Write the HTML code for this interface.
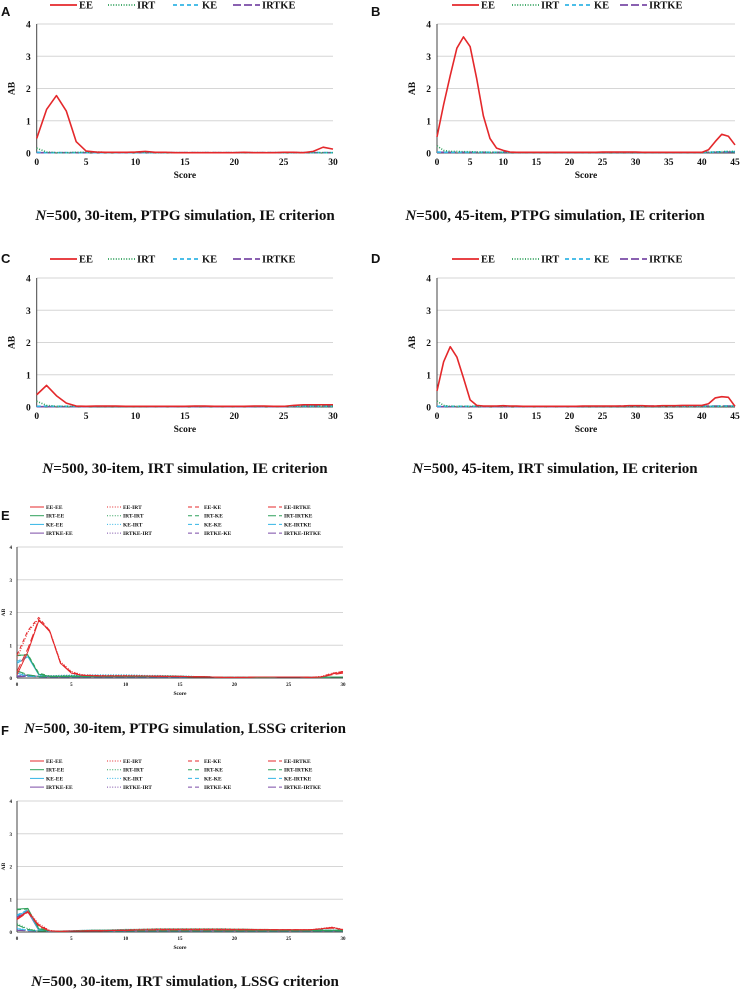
<!DOCTYPE html>
<html><head><meta charset="utf-8"><style>
html,body{margin:0;padding:0;background:#fff;}
svg{display:block;}
.t{font-family:"Liberation Serif",serif;font-weight:bold;}
.p{font-family:"Liberation Sans",sans-serif;font-weight:bold;}
</style></head><body>
<svg id="fig" width="741" height="991" viewBox="0 0 741 991" xmlns="http://www.w3.org/2000/svg"></svg>
<script>
// ---- data ----
const scores30 = [0,1,2,3,4,5,6,7,8,9,10,11,12,13,14,15,16,17,18,19,20,21,22,23,24,25,26,27,28,29,30];
const scores45 = [0,1,2,3,4,5,6,7,8,9,10,11,12,13,14,15,16,17,18,19,20,21,22,23,24,25,26,27,28,29,30,31,32,33,34,35,36,37,38,39,40,41,42,43,44,45];
const yTicks = [0,1,2,3,4];
const xTicks30 = [0,5,10,15,20,25,30];
const xTicks45 = [0,5,10,15,20,25,30,35,40,45];
const seriesNames = ["EE","IRT","KE","IRTKE"];

const A_EE = [0.45,1.35,1.78,1.3,0.35,0.06,0.03,0.02,0.02,0.02,0.03,0.05,0.02,0.02,0.01,0.01,0.01,0.01,0.01,0.01,0.01,0.02,0.01,0.01,0.01,0.02,0.02,0.01,0.05,0.18,0.12];
const A_IRT = [0.15,0.03,0.01,0.01,0.02,0.02,0.03,0.02,0.02,0.02,0.02,0.02,0.01,0.01,0.01,0.01,0.01,0.01,0.01,0.01,0.01,0.01,0.01,0.01,0.01,0.01,0.01,0.01,0.01,0.01,0.01];
const A_KE = [0.02,0.01,0.01,0.01,0.01,0.01,0.01,0.01,0.01,0.01,0.01,0.01,0.01,0.01,0.01,0.01,0.01,0.01,0.01,0.01,0.01,0.01,0.01,0.01,0.01,0.01,0.01,0.01,0.01,0.01,0.01];
const A_IRTKE = [0.01,0.01,0.01,0.01,0.01,0.01,0.02,0.02,0.01,0.01,0.01,0.01,0.01,0.01,0.01,0.01,0.01,0.01,0.01,0.01,0.01,0.01,0.01,0.01,0.01,0.01,0.01,0.01,0.01,0.01,0.01];

const B_EE = [0.5,1.5,2.4,3.25,3.6,3.3,2.3,1.15,0.45,0.15,0.08,0.03,0.02,0.02,0.02,0.02,0.02,0.02,0.02,0.02,0.02,0.02,0.02,0.02,0.02,0.03,0.03,0.03,0.03,0.03,0.03,0.02,0.02,0.02,0.02,0.02,0.02,0.02,0.02,0.02,0.02,0.1,0.35,0.58,0.52,0.25];
const B_IRT = [0.22,0.08,0.05,0.05,0.04,0.04,0.03,0.03,0.02,0.02,0.02,0.02,0.02,0.02,0.02,0.02,0.02,0.02,0.02,0.02,0.02,0.02,0.02,0.02,0.02,0.02,0.02,0.02,0.02,0.02,0.02,0.02,0.02,0.02,0.02,0.02,0.02,0.02,0.02,0.02,0.02,0.02,0.03,0.04,0.05,0.05];
const B_KE = [0.03,0.02,0.02,0.02,0.02,0.02,0.02,0.02,0.02,0.02,0.02,0.02,0.02,0.02,0.02,0.02,0.02,0.02,0.02,0.02,0.02,0.02,0.02,0.02,0.02,0.02,0.02,0.02,0.02,0.02,0.02,0.02,0.02,0.02,0.02,0.02,0.02,0.02,0.02,0.02,0.02,0.02,0.03,0.04,0.04,0.04];
const B_IRTKE = [0.02,0.02,0.02,0.02,0.02,0.02,0.02,0.02,0.02,0.02,0.02,0.02,0.02,0.02,0.02,0.02,0.02,0.02,0.02,0.02,0.02,0.02,0.02,0.02,0.02,0.02,0.02,0.02,0.02,0.02,0.02,0.02,0.02,0.02,0.02,0.02,0.02,0.02,0.02,0.02,0.02,0.02,0.02,0.03,0.03,0.03];

const C_EE = [0.38,0.67,0.35,0.12,0.03,0.02,0.03,0.03,0.03,0.02,0.02,0.02,0.02,0.02,0.02,0.02,0.03,0.03,0.02,0.02,0.02,0.02,0.03,0.03,0.02,0.02,0.05,0.07,0.07,0.07,0.07];
const C_IRT = [0.18,0.05,0.02,0.02,0.02,0.02,0.02,0.02,0.02,0.02,0.02,0.02,0.02,0.02,0.02,0.02,0.02,0.02,0.02,0.02,0.02,0.02,0.02,0.02,0.02,0.02,0.02,0.02,0.02,0.02,0.02];
const C_KE = [0.02,0.03,0.02,0.02,0.02,0.02,0.02,0.02,0.02,0.02,0.02,0.02,0.02,0.02,0.02,0.02,0.02,0.02,0.02,0.02,0.02,0.02,0.02,0.02,0.02,0.02,0.02,0.02,0.02,0.02,0.02];
const C_IRTKE = [0.01,0.01,0.01,0.01,0.01,0.01,0.02,0.02,0.02,0.02,0.02,0.02,0.01,0.01,0.01,0.01,0.01,0.01,0.01,0.01,0.01,0.01,0.01,0.01,0.01,0.01,0.02,0.02,0.02,0.03,0.03];

const D_EE = [0.5,1.4,1.87,1.55,0.9,0.22,0.05,0.03,0.03,0.03,0.04,0.03,0.03,0.02,0.02,0.02,0.02,0.02,0.02,0.02,0.02,0.02,0.03,0.03,0.03,0.03,0.03,0.03,0.03,0.04,0.04,0.04,0.03,0.03,0.04,0.04,0.04,0.05,0.05,0.05,0.05,0.1,0.28,0.32,0.3,0.02];
const D_IRT = [0.18,0.05,0.02,0.02,0.02,0.02,0.02,0.02,0.02,0.02,0.02,0.02,0.02,0.02,0.02,0.02,0.02,0.02,0.02,0.02,0.02,0.02,0.02,0.02,0.02,0.02,0.02,0.02,0.02,0.02,0.02,0.02,0.02,0.02,0.02,0.02,0.02,0.02,0.02,0.02,0.02,0.02,0.02,0.02,0.02,0.02];
const D_KE = [0.02,0.02,0.02,0.02,0.02,0.02,0.02,0.02,0.02,0.02,0.02,0.02,0.02,0.02,0.02,0.02,0.02,0.02,0.02,0.02,0.02,0.02,0.02,0.02,0.02,0.02,0.02,0.02,0.02,0.02,0.02,0.02,0.02,0.02,0.02,0.02,0.02,0.02,0.02,0.02,0.02,0.02,0.02,0.03,0.03,0.03];
const D_IRTKE = [0.01,0.01,0.01,0.01,0.01,0.01,0.01,0.01,0.01,0.01,0.01,0.01,0.01,0.01,0.01,0.01,0.01,0.01,0.01,0.01,0.01,0.01,0.02,0.02,0.02,0.02,0.02,0.02,0.03,0.03,0.03,0.03,0.03,0.03,0.03,0.03,0.03,0.03,0.03,0.03,0.03,0.03,0.03,0.03,0.03,0.03];

const lsNames = ["EE-EE","EE-IRT","EE-KE","EE-IRTKE","IRT-EE","IRT-IRT","IRT-KE","IRT-IRTKE","KE-EE","KE-IRT","KE-KE","KE-IRTKE","IRTKE-EE","IRTKE-IRT","IRTKE-KE","IRTKE-IRTKE"];

// E: PTPG, LSSG
const E_EE_EE = [0.1,0.8,1.75,1.45,0.45,0.15,0.08,0.07,0.06,0.06,0.06,0.06,0.06,0.05,0.05,0.05,0.04,0.04,0.03,0.02,0.02,0.02,0.03,0.03,0.03,0.03,0.03,0.02,0.03,0.12,0.18];
const E_EE_IRT = [0.6,1.4,1.8,1.45,0.5,0.2,0.1,0.08,0.07,0.07,0.07,0.07,0.06,0.06,0.05,0.05,0.04,0.04,0.03,0.02,0.02,0.02,0.03,0.03,0.03,0.03,0.03,0.02,0.05,0.15,0.2];
const E_EE_KE = [0.7,1.45,1.85,1.45,0.48,0.18,0.09,0.08,0.07,0.07,0.07,0.06,0.06,0.06,0.05,0.05,0.04,0.04,0.03,0.02,0.02,0.02,0.03,0.03,0.03,0.03,0.03,0.02,0.04,0.14,0.2];
const E_EE_IRTKE = [0.2,0.9,1.78,1.42,0.45,0.16,0.08,0.07,0.06,0.06,0.06,0.06,0.06,0.05,0.05,0.05,0.04,0.04,0.03,0.02,0.02,0.02,0.03,0.03,0.03,0.03,0.03,0.02,0.03,0.1,0.15];
const E_IRT_EE = [0.7,0.7,0.12,0.05,0.05,0.05,0.05,0.05,0.05,0.05,0.05,0.05,0.05,0.05,0.05,0.05,0.04,0.04,0.03,0.02,0.02,0.02,0.02,0.02,0.03,0.03,0.03,0.02,0.02,0.03,0.03];
const E_IRT_IRT = [0.2,0.08,0.05,0.06,0.07,0.08,0.08,0.08,0.08,0.08,0.08,0.08,0.07,0.07,0.07,0.06,0.05,0.04,0.03,0.02,0.02,0.02,0.02,0.02,0.03,0.03,0.03,0.02,0.02,0.03,0.03];
const E_IRT_KE = [0.68,0.72,0.15,0.06,0.05,0.05,0.05,0.05,0.05,0.05,0.05,0.05,0.05,0.05,0.05,0.05,0.04,0.04,0.03,0.02,0.02,0.02,0.02,0.02,0.03,0.03,0.03,0.02,0.02,0.03,0.03];
const E_IRT_IRTKE = [0.22,0.1,0.05,0.05,0.05,0.05,0.05,0.05,0.05,0.05,0.05,0.05,0.05,0.05,0.05,0.05,0.04,0.04,0.03,0.02,0.02,0.02,0.02,0.02,0.03,0.03,0.03,0.02,0.02,0.03,0.03];
const E_KE_EE = [0.45,0.65,0.1,0.05,0.05,0.06,0.06,0.06,0.06,0.06,0.06,0.06,0.06,0.06,0.05,0.05,0.04,0.04,0.03,0.02,0.02,0.02,0.02,0.02,0.03,0.03,0.03,0.02,0.02,0.03,0.03];
const E_KE_IRT = [0.1,0.05,0.05,0.07,0.08,0.09,0.1,0.1,0.1,0.1,0.1,0.09,0.08,0.08,0.07,0.06,0.05,0.04,0.03,0.02,0.02,0.02,0.02,0.02,0.03,0.03,0.03,0.02,0.02,0.03,0.03];
const E_KE_KE = [0.5,0.68,0.12,0.05,0.05,0.05,0.05,0.05,0.05,0.05,0.05,0.05,0.05,0.05,0.05,0.05,0.04,0.04,0.03,0.02,0.02,0.02,0.02,0.02,0.03,0.03,0.03,0.02,0.02,0.03,0.03];
const E_KE_IRTKE = [0.15,0.06,0.04,0.04,0.04,0.04,0.04,0.04,0.04,0.04,0.04,0.04,0.04,0.04,0.04,0.04,0.03,0.03,0.03,0.02,0.02,0.02,0.02,0.02,0.03,0.03,0.03,0.02,0.02,0.03,0.03];
const E_IRTKE_EE = [0.05,0.08,0.05,0.04,0.04,0.04,0.04,0.04,0.04,0.04,0.04,0.04,0.04,0.04,0.04,0.04,0.03,0.03,0.03,0.02,0.02,0.02,0.02,0.02,0.03,0.03,0.03,0.02,0.02,0.03,0.03];
const E_IRTKE_IRT = [0.05,0.05,0.06,0.07,0.08,0.08,0.08,0.08,0.08,0.08,0.08,0.08,0.07,0.07,0.06,0.06,0.05,0.04,0.03,0.02,0.02,0.02,0.02,0.02,0.03,0.03,0.03,0.02,0.02,0.03,0.03];
const E_IRTKE_KE = [0.06,0.09,0.05,0.04,0.04,0.04,0.04,0.04,0.04,0.04,0.04,0.04,0.04,0.04,0.04,0.04,0.03,0.03,0.03,0.02,0.02,0.02,0.02,0.02,0.03,0.03,0.03,0.02,0.02,0.03,0.03];
const E_IRTKE_IRTKE = [0.04,0.05,0.04,0.03,0.03,0.03,0.03,0.03,0.03,0.03,0.03,0.03,0.03,0.03,0.03,0.03,0.03,0.03,0.03,0.02,0.02,0.02,0.02,0.02,0.03,0.03,0.03,0.02,0.02,0.03,0.03];

// F: IRT, LSSG
const F_EE_EE = [0.4,0.63,0.2,0.03,0.02,0.03,0.03,0.04,0.04,0.05,0.05,0.06,0.06,0.07,0.07,0.07,0.07,0.07,0.07,0.07,0.07,0.07,0.07,0.07,0.07,0.07,0.07,0.07,0.1,0.14,0.07];
const F_EE_IRT = [0.42,0.65,0.25,0.05,0.02,0.03,0.04,0.05,0.05,0.06,0.07,0.08,0.09,0.1,0.1,0.1,0.1,0.1,0.1,0.1,0.09,0.09,0.08,0.08,0.07,0.07,0.07,0.07,0.11,0.15,0.08];
const F_EE_KE = [0.4,0.62,0.22,0.04,0.02,0.03,0.03,0.04,0.04,0.05,0.05,0.06,0.06,0.07,0.07,0.07,0.07,0.07,0.07,0.07,0.07,0.07,0.07,0.07,0.07,0.07,0.07,0.07,0.1,0.13,0.07];
const F_EE_IRTKE = [0.38,0.6,0.18,0.03,0.02,0.03,0.03,0.04,0.04,0.05,0.05,0.06,0.06,0.07,0.07,0.07,0.07,0.07,0.07,0.07,0.07,0.07,0.07,0.07,0.07,0.07,0.07,0.07,0.09,0.12,0.07];
const F_IRT_EE = [0.7,0.72,0.1,0.03,0.02,0.03,0.04,0.05,0.05,0.05,0.05,0.06,0.06,0.06,0.06,0.06,0.06,0.06,0.06,0.05,0.05,0.05,0.05,0.05,0.05,0.05,0.05,0.05,0.05,0.05,0.05];
const F_IRT_IRT = [0.25,0.1,0.03,0.03,0.03,0.04,0.05,0.06,0.06,0.07,0.08,0.08,0.09,0.1,0.1,0.1,0.1,0.1,0.1,0.1,0.09,0.09,0.08,0.08,0.07,0.07,0.06,0.06,0.06,0.06,0.06];
const F_IRT_KE = [0.68,0.7,0.12,0.03,0.02,0.03,0.04,0.05,0.05,0.05,0.05,0.06,0.06,0.06,0.06,0.06,0.06,0.06,0.06,0.05,0.05,0.05,0.05,0.05,0.05,0.05,0.05,0.05,0.05,0.05,0.05];
const F_IRT_IRTKE = [0.22,0.08,0.03,0.03,0.03,0.03,0.04,0.04,0.04,0.04,0.04,0.04,0.04,0.04,0.04,0.04,0.04,0.04,0.04,0.04,0.04,0.04,0.04,0.04,0.04,0.04,0.04,0.04,0.04,0.04,0.04];
const F_KE_EE = [0.5,0.65,0.06,0.02,0.02,0.03,0.03,0.04,0.04,0.05,0.05,0.05,0.05,0.05,0.05,0.05,0.05,0.05,0.05,0.05,0.05,0.05,0.05,0.05,0.05,0.05,0.05,0.05,0.05,0.05,0.05];
const F_KE_IRT = [0.12,0.06,0.03,0.03,0.03,0.04,0.05,0.06,0.06,0.07,0.08,0.08,0.09,0.09,0.09,0.09,0.09,0.09,0.09,0.09,0.08,0.08,0.07,0.07,0.07,0.07,0.06,0.06,0.06,0.05,0.05];
const F_KE_KE = [0.52,0.68,0.08,0.02,0.02,0.03,0.03,0.04,0.04,0.05,0.05,0.05,0.05,0.05,0.05,0.05,0.05,0.05,0.05,0.05,0.05,0.05,0.05,0.05,0.05,0.05,0.05,0.05,0.05,0.05,0.05];
const F_KE_IRTKE = [0.1,0.05,0.03,0.03,0.03,0.03,0.03,0.03,0.03,0.03,0.03,0.03,0.03,0.03,0.03,0.03,0.03,0.03,0.03,0.03,0.03,0.03,0.03,0.03,0.03,0.03,0.03,0.03,0.03,0.03,0.03];
const F_IRTKE_EE = [0.45,0.62,0.05,0.02,0.02,0.03,0.03,0.03,0.03,0.04,0.04,0.04,0.04,0.04,0.04,0.04,0.04,0.04,0.04,0.04,0.04,0.04,0.04,0.04,0.04,0.04,0.04,0.04,0.04,0.04,0.04];
const F_IRTKE_IRT = [0.06,0.05,0.03,0.03,0.03,0.04,0.05,0.05,0.06,0.06,0.07,0.07,0.08,0.08,0.08,0.08,0.08,0.08,0.08,0.08,0.07,0.07,0.07,0.07,0.06,0.06,0.06,0.06,0.06,0.05,0.05];
const F_IRTKE_KE = [0.47,0.64,0.06,0.02,0.02,0.03,0.03,0.03,0.03,0.04,0.04,0.04,0.04,0.04,0.04,0.04,0.04,0.04,0.04,0.04,0.04,0.04,0.04,0.04,0.04,0.04,0.04,0.04,0.04,0.04,0.04];
const F_IRTKE_IRTKE = [0.05,0.04,0.03,0.03,0.03,0.03,0.03,0.03,0.03,0.03,0.03,0.03,0.03,0.03,0.03,0.03,0.03,0.03,0.03,0.03,0.03,0.03,0.03,0.03,0.03,0.03,0.03,0.03,0.03,0.03,0.03];

// ---- rendering ----
const NS = "http://www.w3.org/2000/svg";
const svg = document.getElementById("fig");
const COLORS = {EE:"#e4282b", IRT:"#2ea05a", KE:"#33b5e5", IRTKE:"#7a4ba6"};
const DASH = ["", "1,1.6", "4,3", "8,3"];

function mk(tag, attrs, parent){
  const e = document.createElementNS(NS, tag);
  for (const k in attrs) e.setAttribute(k, attrs[k]);
  (parent||svg).appendChild(e);
  return e;
}
function txt(x,y,s,size,cls,anchor,parent){
  const e = mk("text",{x:x,y:y,"font-size":size,"class":cls,"text-anchor":anchor||"start",fill:"#111"},parent);
  e.textContent = s;
  return e;
}

function drawChart(o){
  const g = mk("g",{});
  
  
  const xS = v => o.x0 + (v - 0) / (o.xMax) * (o.x1 - o.x0);
  const yS = v => o.y0 - v / 4 * (o.y0 - o.yTop);
  yTicks.forEach(t => {
    if (t > 0) {
      const l = mk("line",{x1:o.x0,x2:o.x1,y1:yS(t),y2:yS(t),stroke:"#d6d6d6","stroke-width":1},g);
      
      
    }
    const tl = txt(o.x0 - (o.small?5:6), yS(t) + (o.small?2:3.5), String(t), o.small?5:9.5, "t", "end", g);
    
    
  });
  o.xTicks.forEach(t => {
    const tl = txt(xS(t), o.y0 + (o.small?8:12), String(t), o.small?5:9.5, "t", "middle", g);
    
    
  });
  const ya = mk("line",{x1:o.x0,x2:o.x0,y1:o.yTop,y2:o.y0,stroke:"#444","stroke-width":1},g);
  
  
  const xa = mk("line",{x1:o.x0,x2:o.x1,y1:o.y0,y2:o.y0,stroke:"#444","stroke-width":1},g);
  
  
  const xt = txt((o.x0+o.x1)/2, o.y0 + (o.small?17:25), "Score", o.small?5.5:9.5, "t", "middle", g);
  
  
  const yx = o.x0 - (o.small?12:22), yy = (o.y0+o.yTop)/2;
  const yt = txt(yx, yy, "AB", o.small?5.5:9.5, "t", "middle", g);
  yt.setAttribute("transform", `rotate(-90 ${yx} ${yy})`);
  
  
  for (let i = o.series.length - 1; i >= 0; i--) {
    const s = o.series[i];
    const pts = s.values.map((v, k) => xS(o.xs[k]).toFixed(2) + "," + yS(v).toFixed(2)).join(" ");
    const p = mk("polyline",{points:pts,fill:"none",stroke:s.color,"stroke-width":o.small?1:1.6,"stroke-dasharray":s.dash,"stroke-linejoin":"round"},g);
    
    
  }
}

function legend4(x, y, offsets){
  seriesNames.forEach((n, i) => {
    const lx = x + offsets[i];
    const l = mk("line",{x1:lx,x2:lx+27,y1:y,y2:y,stroke:COLORS[n],"stroke-width":1.8,"stroke-dasharray":DASH[i]});
    
    
    const t = txt(lx+29, y+3.5, n, 10.5, "t");
    
    
  });
}
function legend16(y){
  const cols = [30, 107, 188, 268];
  lsNames.forEach((n, i) => {
    const r = Math.floor(i/4), c = i % 4;
    const color = COLORS[n.split("-")[0]];
    const lx = cols[c], ly = y + r*8.7;
    const l = mk("line",{x1:lx,x2:lx+14,y1:ly,y2:ly,stroke:color,"stroke-width":1,"stroke-dasharray":DASH[c]});
    
    
    const t = txt(lx+16, ly+2, n, 5.5, "t");
    
    
  });
}
function four(a){ return seriesNames.map((n,i)=>({name:n, values:a[i], color:COLORS[n], dash:DASH[i]})); }
function sixteen(a){ return lsNames.map((n,i)=>({name:n, values:a[i], color:COLORS[n.split("-")[0]], dash:DASH[i%4]})); }
function panelLabel(x,y,s){ const t = txt(x,y,s,13,"p");   }
function caption(cx,y,rest){
  const t = mk("text",{x:cx,y:y,"font-size":15,"class":"t","text-anchor":"middle",fill:"#111"});
  const i = mk("tspan",{"font-style":"italic"},t); i.textContent = "N";
  const r = mk("tspan",{},t); r.textContent = rest;
  
  
}

const LEG_L = [0,58,123,183];
const LEG_R = [0,60,113,168];
// A
panelLabel(1,16,"A"); legend4(50,5,LEG_L);
drawChart({name:"chart-a",x0:36.7,x1:333,xMax:30,yTop:24,y0:153,xs:scores30,xTicks:xTicks30,series:four([A_EE,A_IRT,A_KE,A_IRTKE])});
caption(185,220,"=500, 30-item, PTPG simulation, IE criterion");
// B
panelLabel(371,16,"B"); legend4(452,5,LEG_R);
drawChart({name:"chart-b",x0:437,x1:735,xMax:45,yTop:24,y0:153,xs:scores45,xTicks:xTicks45,series:four([B_EE,B_IRT,B_KE,B_IRTKE])});
caption(555,220,"=500, 45-item, PTPG simulation, IE criterion");
// C
panelLabel(1,263,"C"); legend4(50,259,LEG_L);
drawChart({name:"chart-c",x0:36.7,x1:333,xMax:30,yTop:278,y0:407,xs:scores30,xTicks:xTicks30,series:four([C_EE,C_IRT,C_KE,C_IRTKE])});
caption(185,473,"=500, 30-item, IRT simulation, IE criterion");
// D
panelLabel(371,263,"D"); legend4(452,259,LEG_R);
drawChart({name:"chart-d",x0:437,x1:735,xMax:45,yTop:278,y0:407,xs:scores45,xTicks:xTicks45,series:four([D_EE,D_IRT,D_KE,D_IRTKE])});
caption(555,473,"=500, 45-item, IRT simulation, IE criterion");
// E
panelLabel(1,520,"E"); legend16(507);
drawChart({name:"chart-e",small:true,x0:17,x1:343,xMax:30,yTop:547,y0:678,xs:scores30,xTicks:xTicks30,series:sixteen([E_EE_EE,E_EE_IRT,E_EE_KE,E_EE_IRTKE,E_IRT_EE,E_IRT_IRT,E_IRT_KE,E_IRT_IRTKE,E_KE_EE,E_KE_IRT,E_KE_KE,E_KE_IRTKE,E_IRTKE_EE,E_IRTKE_IRT,E_IRTKE_KE,E_IRTKE_IRTKE])});
caption(185,733,"=500, 30-item, PTPG simulation, LSSG criterion");
// F
panelLabel(1,735,"F"); legend16(761);
drawChart({name:"chart-f",small:true,x0:17,x1:343,xMax:30,yTop:801,y0:932,xs:scores30,xTicks:xTicks30,series:sixteen([F_EE_EE,F_EE_IRT,F_EE_KE,F_EE_IRTKE,F_IRT_EE,F_IRT_IRT,F_IRT_KE,F_IRT_IRTKE,F_KE_EE,F_KE_IRT,F_KE_KE,F_KE_IRTKE,F_IRTKE_EE,F_IRTKE_IRT,F_IRTKE_KE,F_IRTKE_IRTKE])});
caption(185,986,"=500, 30-item, IRT simulation, LSSG criterion");
</script>
</body></html>
